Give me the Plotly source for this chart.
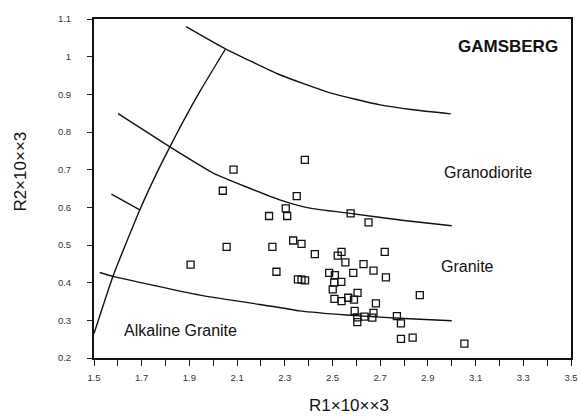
import plotly.graph_objects as go

# Sample points (R1, R2 in thousands)
r1 = [1.905, 2.085, 2.04, 2.056, 2.234, 2.248, 2.265, 2.304, 2.31, 2.335, 2.35,
      2.384, 2.37, 2.355, 2.37, 2.385, 2.426, 2.576, 2.651, 2.538, 2.522, 2.554,
      2.719, 2.63, 2.587, 2.672, 2.724, 2.486, 2.51, 2.537, 2.507, 2.501, 2.605,
      2.508, 2.538, 2.566, 2.59, 2.682, 2.866, 2.593, 2.672, 2.604, 2.634, 2.667,
      2.604, 2.77, 2.787, 2.787, 2.836, 3.053]
r2 = [0.448, 0.70, 0.644, 0.495, 0.577, 0.495, 0.429, 0.597, 0.577, 0.512, 0.63,
      0.726, 0.503, 0.409, 0.408, 0.406, 0.476, 0.584, 0.56, 0.482, 0.472, 0.454,
      0.482, 0.449, 0.426, 0.432, 0.414, 0.426, 0.42, 0.402, 0.40, 0.382, 0.373,
      0.357, 0.351, 0.36, 0.355, 0.345, 0.367, 0.325, 0.32, 0.308, 0.31, 0.307,
      0.295, 0.311, 0.292, 0.251, 0.254, 0.238]

# Boundary curves
top_x = [1.886, 2.051, 2.279, 2.49, 2.7, 2.839, 2.996]
top_y = [1.08, 1.021, 0.952, 0.904, 0.872, 0.859, 0.848]

mid_x = [1.601, 1.815, 1.86, 2.0, 2.279, 2.405, 2.573, 2.8, 3.0]
mid_y = [0.849, 0.762, 0.744, 0.691, 0.62, 0.598, 0.584, 0.565, 0.551]

low_x = [1.524, 1.584, 1.944, 2.279, 2.363, 2.559, 2.8, 3.0]
low_y = [0.427, 0.416, 0.367, 0.334, 0.325, 0.314, 0.305, 0.299]

short_x = [1.573, 1.692]
short_y = [0.635, 0.593]

steep_x = [1.5, 1.58, 1.692, 1.77, 1.821, 1.878, 1.949, 2.05]
steep_y = [0.265, 0.418, 0.593, 0.70, 0.764, 0.833, 0.913, 1.019]

x_ticks = [1.5, 1.7, 1.9, 2.1, 2.3, 2.5, 2.7, 2.9, 3.1, 3.3, 3.5]
y_ticks = [0.2, 0.3, 0.4, 0.5, 0.6, 0.7, 0.8, 0.9, 1.0, 1.1]
y_tick_text = ["0.2", "0.3", "0.4", "0.5", "0.6", "0.7", "0.8", "0.9", "1", "1.1"]

fig = go.Figure()
curved = dict(color="#111111", width=1.4, shape="spline", smoothing=0.5)
straight = dict(color="#111111", width=1.4, shape="linear")
for xs, ys, st in [(top_x, top_y, curved), (mid_x, mid_y, curved), (low_x, low_y, curved),
                   (short_x, short_y, straight), (steep_x, steep_y, curved)]:
    fig.add_trace(go.Scatter(x=xs, y=ys, mode="lines", line=st,
                             hoverinfo="skip", showlegend=False))

fig.add_trace(go.Scatter(
    x=r1, y=r2, mode="markers", showlegend=False,
    marker=dict(symbol="square-open", size=7, color="#111111",
                line=dict(width=1.3, color="#111111"))))

label_font = dict(family="Liberation Sans, Arial, sans-serif", size=16, color="#111111")
fig.add_annotation(x=3.454, y=1.027, text="<b>GAMSBERG</b>", showarrow=False,
                   xanchor="right", yanchor="middle",
                   font=dict(family="Liberation Sans, Arial, sans-serif", size=17, color="#111111"))
fig.add_annotation(x=3.15, y=0.693, text="Granodiorite", showarrow=False,
                   xanchor="center", yanchor="middle", font=label_font)
fig.add_annotation(x=3.066, y=0.442, text="Granite", showarrow=False,
                   xanchor="center", yanchor="middle", font=label_font)
fig.add_annotation(x=1.862, y=0.272, text="Alkaline Granite", showarrow=False,
                   xanchor="center", yanchor="middle", font=label_font)

title_font = dict(family="Liberation Sans, Arial, sans-serif", size=17, color="#111111")
fig.add_annotation(xref="paper", yref="paper", x=0.535, y=-0.14, text="R1×10××3",
                   showarrow=False, xanchor="center", yanchor="middle", font=title_font)
fig.add_annotation(xref="paper", yref="paper", x=-0.155, y=0.55, text="R2×10××3",
                   showarrow=False, xanchor="center", yanchor="middle", textangle=-90,
                   font=title_font)

tick_font = dict(family="Liberation Sans, Arial, sans-serif", size=9.5, color="#333333")
fig.update_xaxes(range=[1.5, 3.5], tickvals=x_ticks, ticktext=[f"{v:.1f}" for v in x_ticks],
                 ticks="outside", ticklen=6, tickwidth=1.2, tickcolor="#222222",
                 minor=dict(dtick=0.1, tick0=1.5, ticks="outside", ticklen=6,
                            tickwidth=1.2, tickcolor="#222222", showgrid=False),
                 showline=True, linewidth=2, linecolor="#111111", mirror=True,
                 showgrid=False, zeroline=False, tickfont=tick_font, ticklabelstandoff=4,
                 automargin=False)
fig.update_yaxes(range=[0.2, 1.1], tickvals=y_ticks, ticktext=y_tick_text,
                 ticks="outside", ticklen=5, tickwidth=1.2, tickcolor="#222222",
                 showline=True, linewidth=2, linecolor="#111111", mirror=True,
                 showgrid=False, zeroline=False, tickfont=tick_font, ticklabelstandoff=14,
                 automargin=False)

fig.update_layout(width=581, height=420, plot_bgcolor="white", paper_bgcolor="white",
                  margin=dict(l=94, r=10, t=19, b=62), showlegend=False)

fig.write_html("out.html", config={"displayModeBar": False},
               post_script="document.body.style.margin='0';document.body.style.padding='0';"
                           "document.documentElement.style.overflow='hidden';")
